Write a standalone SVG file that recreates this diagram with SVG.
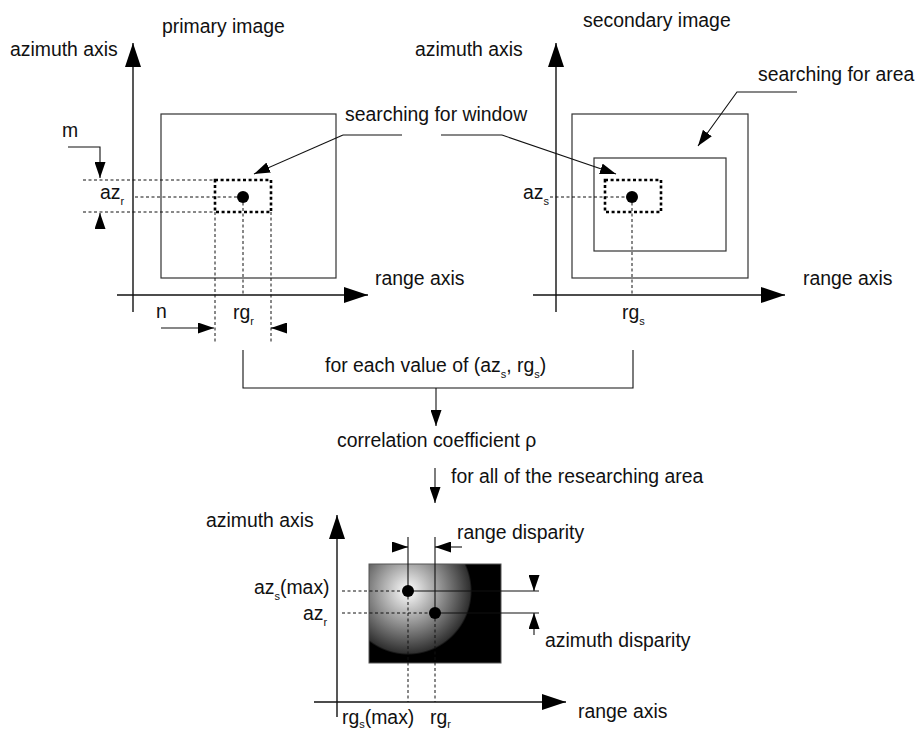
<svg xmlns="http://www.w3.org/2000/svg" width="917" height="730" viewBox="0 0 917 730">
<style>
text{font-family:"Liberation Sans",Arial,Helvetica,sans-serif;font-size:19.4px;fill:#111}
.sub{font-size:11px}
.ax{stroke:#111;stroke-width:1.4;fill:none}
.box{stroke:#333;stroke-width:1.2;fill:none}
.ln{stroke:#111;stroke-width:1.1;fill:none}
.dash{stroke:#111;stroke-width:1;fill:none;stroke-dasharray:3,2.5}
.win{stroke:#000;stroke-width:2.6;fill:none;stroke-dasharray:3,2.6}
.dot{fill:#000}
.big{marker-end:url(#big)}
.sm{marker-end:url(#sm)}
</style>
<defs>
<marker id="big" markerUnits="userSpaceOnUse" markerWidth="24" markerHeight="16" refX="24" refY="8" orient="auto" viewBox="0 0 24 16"><path d="M0,0L24,8L0,16z" fill="#000"/></marker>
<marker id="sm" markerUnits="userSpaceOnUse" markerWidth="16" markerHeight="11" refX="16" refY="5.5" orient="auto" viewBox="0 0 16 11"><path d="M0,0L16,5.5L0,11z" fill="#000"/></marker>
<radialGradient id="rg" gradientUnits="userSpaceOnUse" cx="408" cy="591" r="64">
<stop offset="0" stop-color="#fff"/>
<stop offset="0.45" stop-color="#a0a0a0"/>
<stop offset="0.97" stop-color="#303030"/>
<stop offset="1" stop-color="#000"/>
</radialGradient>
</defs>

<g id="primary-image">
<text x="162" y="33">primary image</text>
<text x="10" y="56">azimuth axis</text>
<text x="375" y="285">range axis</text>
<line class="ax big" x1="133" y1="312" x2="133" y2="43"/>
<line class="ax big" x1="117" y1="295" x2="368" y2="295"/>
<rect class="box" x="161" y="114" width="175" height="164"/>
<path class="dash" d="M83,180H215M83,212H215M135,197H243M215,212V343M271,212V343M243,197V295"/>
<rect class="win" x="215" y="180" width="56" height="32"/>
<circle class="dot" cx="243" cy="197" r="6"/>
<text x="62" y="137">m</text>
<text x="100" y="199">az<tspan class="sub" dy="6">r</tspan></text>
<text x="156" y="318">n</text>
<text x="233" y="319">rg<tspan class="sub" dy="6">r</tspan></text>
<polyline class="ln sm" points="68,147 100,147 100,178"/>
<line class="ln sm" x1="100" y1="229" x2="100" y2="213"/>
<line class="ln sm" x1="161" y1="328" x2="214" y2="328"/>
<line class="ln sm" x1="287" y1="328" x2="271" y2="328"/>
</g>

<g id="secondary-image">
<text x="583" y="27">secondary image</text>
<text x="415" y="56">azimuth axis</text>
<text x="803" y="285">range axis</text>
<text x="758" y="81">searching for area</text>
<line class="ax big" x1="556" y1="312" x2="556" y2="43"/>
<line class="ax big" x1="533" y1="295" x2="785" y2="295"/>
<rect class="box" x="572" y="114" width="176" height="164"/>
<rect class="box" x="594" y="158" width="132" height="93"/>
<path class="dash" d="M550,197H632M632,197V295"/>
<rect class="win" x="605" y="180" width="56" height="32"/>
<circle class="dot" cx="632" cy="197" r="6"/>
<text x="523" y="199">az<tspan class="sub" dy="6">s</tspan></text>
<text x="622" y="319">rg<tspan class="sub" dy="6">s</tspan></text>
<polyline class="ln sm" points="797,92 737,92 698,146"/>
</g>

<g id="search-window-label">
<text x="345" y="121">searching for window</text>
</g>

<g id="correlation">
<text x="325" y="372">for each value of (az<tspan class="sub" dy="6">s</tspan><tspan dy="-6">, rg</tspan><tspan class="sub" dy="6">s</tspan><tspan dy="-6">)</tspan></text>
<text x="337" y="447">correlation coefficient ρ</text>
<text x="451" y="483">for all of the researching area</text>
</g>

<g id="result">
<text x="206" y="527">azimuth axis</text>
<text x="578" y="718">range axis</text>
<text x="457" y="539">range disparity</text>
<text x="545" y="647">azimuth disparity</text>
<text x="254" y="594">az<tspan class="sub" dy="6">s</tspan><tspan dy="-6">(max)</tspan></text>
<text x="303" y="620">az<tspan class="sub" dy="6">r</tspan></text>
<text x="342" y="724">rg<tspan class="sub" dy="4">s</tspan><tspan dy="-4">(max)</tspan></text>
<text x="430" y="724">rg<tspan class="sub" dy="4">r</tspan></text>
<line class="ax big" x1="337" y1="717" x2="337" y2="515"/>
<line class="ax big" x1="314" y1="702" x2="566" y2="702"/>
<rect x="369" y="564" width="132" height="99" fill="#000"/>
<rect x="369" y="564" width="132" height="99" fill="url(#rg)" stroke="#555" stroke-width="1"/>
<path class="dash" d="M342,591H408M342,613H435M408,591V702M435,613V702"/>
<path class="ln" d="M408,537V591M435,537V613M408,591H539M435,613H539"/>
<circle class="dot" cx="408" cy="591" r="6"/>
<circle class="dot" cx="435" cy="613" r="6"/>
<line class="ln sm" x1="392" y1="547" x2="408" y2="547"/>
<line class="ln sm" x1="462" y1="547" x2="435" y2="547"/>
<line class="ln sm" x1="534" y1="575" x2="534" y2="591"/>
<line class="ln sm" x1="534" y1="635" x2="534" y2="613"/>
</g>

<g id="connectors">
<path class="ln" d="M343,135H402M441,135H502"/>
<line class="ln sm" x1="343" y1="135" x2="254" y2="174"/>
<line class="ln sm" x1="502" y1="135" x2="616" y2="174"/>
<polyline class="ln" points="243,350 243,388 633,388 633,350"/>
<line class="ln sm" x1="436" y1="388" x2="436" y2="426"/>
<line class="ln sm" x1="435" y1="468" x2="435" y2="503"/>
</g>
</svg>
